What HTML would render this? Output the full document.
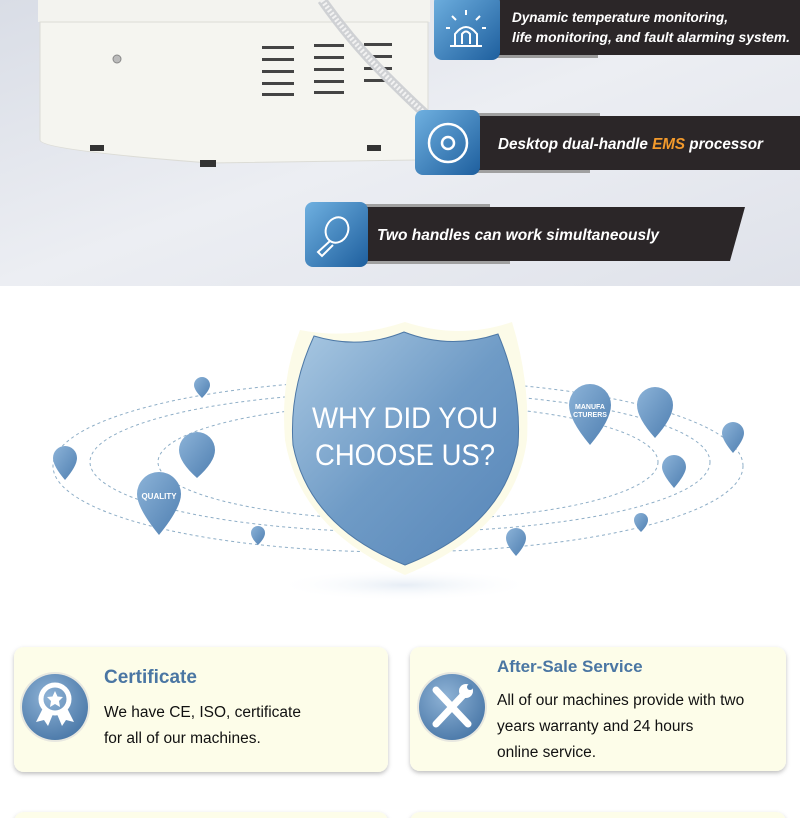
<!DOCTYPE html>
<html><head><meta charset="utf-8"><style>
html,body{margin:0;padding:0;background:#fff;}
body{width:800px;height:818px;overflow:hidden;position:relative;font-family:"Liberation Sans",sans-serif;}
svg{position:absolute;left:0;top:0;}
</style></head><body>
<svg width="800" height="818" viewBox="0 0 800 818" xmlns="http://www.w3.org/2000/svg">
<defs>
<linearGradient id="bg" x1="0" y1="0" x2="1" y2="1"><stop offset="0" stop-color="#d9dde6"/><stop offset="0.5" stop-color="#eceef3"/><stop offset="1" stop-color="#dfe2ea"/></linearGradient>
<linearGradient id="ic" x1="0" y1="0" x2="1" y2="1"><stop offset="0" stop-color="#6fb0e0"/><stop offset="1" stop-color="#1e5f9e"/></linearGradient>
<linearGradient id="sh" x1="0" y1="0" x2="1" y2="1"><stop offset="0" stop-color="#a9c8e2"/><stop offset="0.5" stop-color="#6f9bc6"/><stop offset="1" stop-color="#5685b8"/></linearGradient>
<linearGradient id="pin" x1="0" y1="0" x2="1" y2="1"><stop offset="0" stop-color="#8cb3d8"/><stop offset="1" stop-color="#4f7fb1"/></linearGradient>
<radialGradient id="cb" cx="0.4" cy="0.35" r="0.7"><stop offset="0" stop-color="#8fb3d6"/><stop offset="1" stop-color="#4a78a8"/></radialGradient>
<radialGradient id="shad" cx="0.5" cy="0.5" r="0.5"><stop offset="0" stop-color="#e6edf5"/><stop offset="1" stop-color="#fff" stop-opacity="0"/></radialGradient>
<filter id="ds" x="-10%" y="-10%" width="120%" height="130%"><feDropShadow dx="0" dy="2" stdDeviation="2" flood-color="#000" flood-opacity="0.25"/></filter>
</defs>
<rect x="0" y="0" width="800" height="286" fill="url(#bg)"/>
<rect x="38" y="0" width="392" height="22" fill="#f3f3ef"/>
<path d="M40 22 H428 V150 Q428 160 418 160 L210 163 Q40 150 40 140 Z" fill="#f5f5f0" stroke="#dcdcd6"/>
<rect x="90" y="145" width="14" height="6" fill="#333"/><rect x="200" y="160" width="16" height="7" fill="#333"/><rect x="367" y="145" width="14" height="6" fill="#333"/>
<circle cx="117" cy="59" r="4" fill="#bbb" stroke="#888"/>
<g fill="#444">
<rect x="262" y="46" width="32" height="3"/><rect x="262" y="58" width="32" height="3"/><rect x="262" y="70" width="32" height="3"/><rect x="262" y="82" width="32" height="3"/><rect x="262" y="93" width="32" height="3"/>
<rect x="314" y="44" width="30" height="3"/><rect x="314" y="56" width="30" height="3"/><rect x="314" y="68" width="30" height="3"/><rect x="314" y="80" width="30" height="3"/><rect x="314" y="91" width="30" height="3"/>
<rect x="364" y="43" width="28" height="3"/><rect x="364" y="55" width="28" height="3"/><rect x="364" y="67" width="28" height="3"/><rect x="364" y="79" width="28" height="3"/>
</g>
<path d="M322 0 Q350 40 385 75 Q420 110 438 125" stroke="#cfd1d4" stroke-width="10" fill="none"/>
<path d="M322 0 Q350 40 385 75 Q420 110 438 125" stroke="#f2f2f2" stroke-width="5" fill="none" stroke-dasharray="2 2"/>
<rect x="488" y="0" width="312" height="55" fill="#2b2628"/>
<rect x="488" y="55" width="110" height="3" fill="#9a9a9a"/>
<rect x="434" y="-6" width="66" height="66" rx="8" fill="url(#ic)"/>
<g stroke="#fff" stroke-width="2" fill="none"><path d="M450 46 H482 M455 46 V34 Q466 20 477 34 V46 M462 44 V34 Q466 29 470 34 V44 M466 10 V15 M452 16 L456 20 M480 16 L476 20 M446 28 H450 M482 28 H486"/></g>
<text x="512" y="22" font-size="14" font-style="italic" font-weight="bold" fill="#fff" textLength="216" lengthAdjust="spacingAndGlyphs">Dynamic temperature monitoring,</text>
<text x="512" y="42" font-size="14" font-style="italic" font-weight="bold" fill="#fff" textLength="278" lengthAdjust="spacingAndGlyphs">life monitoring, and fault alarming system.</text>
<rect x="470" y="116" width="330" height="54" fill="#2b2628"/>
<rect x="470" y="113" width="130" height="3" fill="#a0a0a0"/>
<rect x="470" y="170" width="120" height="3" fill="#a0a0a0"/>
<rect x="415" y="110" width="65" height="65" rx="8" fill="url(#ic)"/>
<circle cx="448" cy="143" r="19" stroke="#fff" stroke-width="2.5" fill="none"/><circle cx="448" cy="143" r="6" stroke="#fff" stroke-width="2.5" fill="none"/>
<text x="498" y="149" font-size="16" font-style="italic" font-weight="bold" fill="#fff" textLength="265" lengthAdjust="spacingAndGlyphs">Desktop dual-handle <tspan fill="#f39a2c">EMS</tspan> processor</text>
<path d="M360 207 H745 L730 261 H360 Z" fill="#2b2628"/>
<rect x="360" y="204" width="130" height="3" fill="#a0a0a0"/>
<rect x="360" y="261" width="150" height="3" fill="#a0a0a0"/>
<rect x="305" y="202" width="63" height="65" rx="8" fill="url(#ic)"/>
<g stroke="#fff" stroke-width="2" fill="none"><ellipse cx="337" cy="230" rx="11" ry="13" transform="rotate(25 337 230)"/><path d="M330 241 L318 252 L322 256 L333 245"/></g>
<text x="377" y="240" font-size="16" font-style="italic" font-weight="bold" fill="#fff" textLength="282" lengthAdjust="spacingAndGlyphs">Two handles can work simultaneously</text>

<g fill="none" stroke="#8eaec7" stroke-width="1" stroke-dasharray="3 3">
<ellipse cx="398" cy="466" rx="345" ry="86"/>
<ellipse cx="400" cy="462" rx="310" ry="70"/>
<ellipse cx="408" cy="462" rx="250" ry="58"/>
</g>
<ellipse cx="405" cy="585" rx="130" ry="16" fill="url(#shad)"/>
<path d="M300 330 Q350 340 405 322 Q460 340 512 322 Q530 380 527 440 Q515 530 405 575 Q300 530 285 440 Q280 380 300 330 Z" fill="#fcfbe8"/>
<path d="M314 336 Q360 350 404 332 Q450 350 498 334 Q522 390 518 445 Q503 527 405 565 Q309 527 293 445 Q289 390 314 336 Z" fill="url(#sh)" stroke="#4d78a6" stroke-width="1"/>
<text x="405" y="428" font-size="30" fill="#fff" text-anchor="middle" textLength="186" lengthAdjust="spacingAndGlyphs">WHY DID YOU</text>
<text x="405" y="465" font-size="30" fill="#fff" text-anchor="middle" textLength="180" lengthAdjust="spacingAndGlyphs">CHOOSE US?</text>
<g fill="url(#pin)">
<path d="M194 385 A8 8 0 1 1 210 385 Q210 390 202 398 Q194 390 194 385 Z"/>
<path d="M53 458 A12 12 0 1 1 77 458 Q77 466 65 480 Q53 466 53 458 Z"/>
<path d="M179 450 A18 18 0 1 1 215 450 Q215 462 197 478 Q179 462 179 450 Z"/>
<path d="M137 494 A22 22 0 1 1 181 494 Q181 508 159 535 Q137 508 137 494 Z"/>
<path d="M251 533 A7 7 0 1 1 265 533 Q265 538 258 545 Q251 538 251 533 Z"/>
<path d="M569 405 A21 21 0 1 1 611 405 Q611 420 590 445 Q569 420 569 405 Z"/>
<path d="M637 405 A18 18 0 1 1 673 405 Q673 418 655 438 Q637 418 637 405 Z"/>
<path d="M722 433 A11 11 0 1 1 744 433 Q744 440 733 453 Q722 440 722 433 Z"/>
<path d="M662 467 A12 12 0 1 1 686 467 Q686 474 674 488 Q662 474 662 467 Z"/>
<path d="M634 520 A7 7 0 1 1 648 520 Q648 525 641 532 Q634 525 634 520 Z"/>
<path d="M506 538 A10 10 0 1 1 526 538 Q526 545 516 556 Q506 545 506 538 Z"/>
</g>
<text x="159" y="499" font-size="8" fill="#fff" text-anchor="middle" font-weight="bold">QUALITY</text>
<text x="590" y="409" font-size="7" fill="#fff" text-anchor="middle" font-weight="bold">MANUFA</text>
<text x="590" y="417" font-size="7" fill="#fff" text-anchor="middle" font-weight="bold">CTURERS</text>

<rect x="14" y="647" width="374" height="125" rx="10" fill="#fdfde9" filter="url(#ds)"/>
<rect x="410" y="647" width="376" height="124" rx="10" fill="#fdfde9" filter="url(#ds)"/>
<rect x="14" y="812" width="374" height="30" rx="10" fill="#fdfde9" filter="url(#ds)"/>
<rect x="410" y="812" width="376" height="30" rx="10" fill="#fdfde9" filter="url(#ds)"/>
<circle cx="55" cy="707" r="35" fill="#e8e8e0"/><circle cx="55" cy="707" r="33" fill="url(#cb)"/>
<circle cx="55" cy="699" r="14" stroke="#fff" stroke-width="5" fill="none"/>
<path d="M55 691 L57.5 696.5 L63 697 L59 701 L60 707 L55 704 L50 707 L51 701 L47 697 L52.5 696.5 Z" fill="#fff"/>
<path d="M43 708 L36 722 L44 720 L48 726 L53 714 Z M67 708 L74 722 L66 720 L62 726 L57 714 Z" fill="#fff"/>
<circle cx="452" cy="707" r="35" fill="#e8e8e0"/><circle cx="452" cy="707" r="33" fill="url(#cb)"/>
<path d="M436 690 L468 724 M468 690 L436 724" stroke="#fff" stroke-width="7" stroke-linecap="round"/>
<circle cx="466" cy="691" r="7" fill="#fff"/><circle cx="470" cy="687" r="3" fill="#5a88b6"/>
<text x="104" y="683" font-size="19" font-weight="bold" fill="#4a76a3">Certificate</text>
<text x="104" y="717" font-size="15.5" fill="#111">We have CE, ISO, certificate</text>
<text x="104" y="743" font-size="15.5" fill="#111">for all of our machines.</text>
<text x="497" y="672" font-size="17" font-weight="bold" fill="#4a76a3">After-Sale Service</text>
<text x="497" y="705" font-size="15.5" fill="#111">All of our machines provide with two</text>
<text x="497" y="731" font-size="15.5" fill="#111">years warranty and 24 hours</text>
<text x="497" y="757" font-size="15.5" fill="#111">online service.</text>
</svg>
</body></html>
